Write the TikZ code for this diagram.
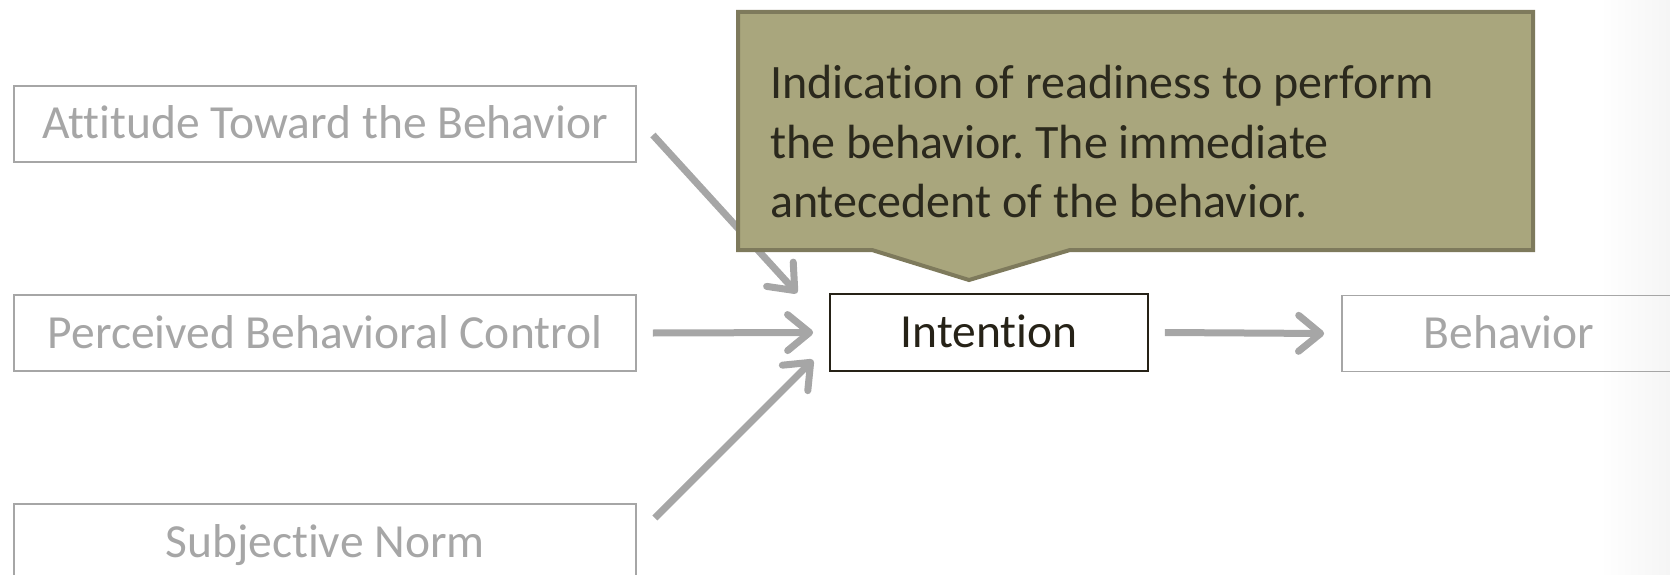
\documentclass[tikz,border=0pt]{standalone}
\usepackage{xcolor}
\usepackage{fontspec}
\setmainfont{Carlito}[Ligatures=NoCommon]
\usepackage{tikz}
\usetikzlibrary{positioning,calc,arrows.meta}
\frenchspacing

\definecolor{boxgray}{HTML}{A6A6A6}
\definecolor{inkdark}{HTML}{262217}
\definecolor{notefill}{HTML}{A9A67D}
\definecolor{noteline}{HTML}{7E7A5C}
\definecolor{notetext}{HTML}{2B291D}

\begin{document}
\begin{tikzpicture}[x=1pt, y=-1pt,
    box/.style={draw=boxgray, line width=1.8pt, text=boxgray, inner sep=0pt,
        minimum width=622pt, minimum height=76pt, text height=36pt, text depth=6pt,
        font=\fontsize{47.5}{56}\selectfont},
    keybox/.style={box, draw=inkdark, text=inkdark, minimum width=318pt, minimum height=77pt},
    link/.style={draw=boxgray, line width=7pt, -{Straight Barb[length=22pt, width=36pt, round]}}]
    \useasboundingbox (0,0) rectangle (1670,575);
    \clip (0,0) rectangle (1670,575);
    \fill[left color=white, right color=black!4] (1600,0) rectangle (1670,575);
    % factors
    \node[box] (att) at (325,124) {Attitude Toward the Behavior};
    \node[box] (perc) at (325,333) {Perceived Behavioral Control};
    \node[box] (subj) at (325,542) {Subjective Norm};
    \node[keybox] (intent) at (989,332.5) {Intention};
    \node[box, minimum width=334pt] (beh) at (1509,333.5) {Behavior};
    % arrows
    \draw[link] ([xshift=16pt,yshift=-11pt]att.east) -- ([xshift=-32pt]intent.north west);
    \draw[link] ([xshift=16pt]perc.east) -- ([xshift=-16pt]intent.west);
    \draw[link] ([xshift=18pt,yshift=24pt]subj.east) -- ([xshift=-16pt,yshift=12pt]intent.south west);
    \draw[link] ([xshift=16pt]intent.east) -- ([xshift=-17pt]beh.west);
    % callout over the intention box
    \filldraw[fill=notefill, draw=noteline, line width=4pt]
        (738,12) -- (1533,12) -- (1533,250) -- (1070,250) -- (969,280) -- (872,250) -- (738,250) -- cycle;
    \node[anchor=north west, inner sep=0pt, align=left, text=notetext,
        font=\fontsize{48}{59.5}\selectfont] (note) at (770,65)
        {Indication of readiness to perform\\the behavior. The immediate\\antecedent of the behavior.};
\end{tikzpicture}
\end{document}
